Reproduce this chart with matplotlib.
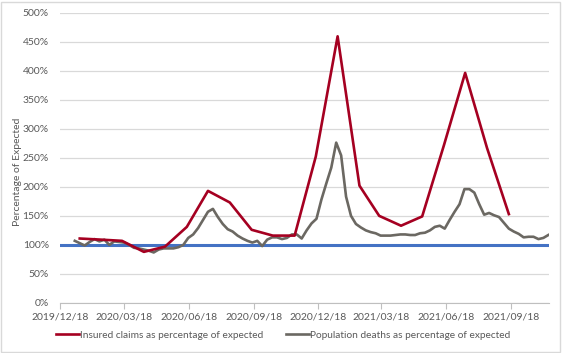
import matplotlib
matplotlib.use("Agg")
import matplotlib.pyplot as plt
import matplotlib.dates as mdates
import numpy as np
import pandas as pd
from matplotlib.patches import Rectangle
from matplotlib.ticker import FuncFormatter, MultipleLocator

plt.rcParams["font.family"] = ["Lato", "DejaVu Sans"]

# insured claims, monthly (mid-month), % of expected
claims_dates = pd.date_range("2020-01-01", periods=21, freq="MS") + pd.Timedelta(days=14)
claims_pct = [111, 109, 107, 88, 97, 131, 193, 173, 126, 116, 116, 252,
              459, 202, 150, 133, 149, 272, 396, 267, 153]

# population deaths, weekly, % of expected
deaths_dates = pd.date_range("2020-01-08", periods=97, freq="7D")
deaths_pct = [107, 103, 99, 105, 110, 106, 109, 100, 106, 105,
              104, 100, 95, 94, 92, 90, 87, 92, 94, 94,
              94, 96, 100, 112, 118, 129, 143, 157, 162, 148,
              136, 127, 123, 116, 111, 107, 104, 107, 98, 109,
              113, 113, 110, 112, 118, 118, 111, 125, 137, 145,
              178, 206, 233, 276, 254, 183, 150, 136, 130, 125,
              122, 120, 116, 116, 116, 117, 118, 118, 117, 117,
              120, 121, 125, 131, 133, 128, 143, 157, 170, 196,
              196, 190, 170, 152, 155, 151, 148, 138, 128, 123,
              119, 113, 114, 114, 110, 112, 117]

tick_dates = pd.to_datetime(["2019-12-18", "2020-03-18", "2020-06-18", "2020-09-18",
                             "2020-12-18", "2021-03-18", "2021-06-18", "2021-09-18"])
x_start = pd.Timestamp("2019-12-18")
x_end = pd.Timestamp("2021-11-11")

fig = plt.figure(figsize=(5.62, 3.53), dpi=100)
ax = fig.add_axes([60 / 562, 50 / 353, 489 / 562, 290.5 / 353])

ax.plot([x_start, x_end], [100, 100], color="#4472C4", lw=2.2, zorder=2)
ax.plot(claims_dates, claims_pct, color="#A50021", lw=1.9, zorder=4,
        label="Insured claims as percentage of expected")
ax.plot(deaths_dates, deaths_pct, color="#6B6862", lw=1.9, zorder=3,
        label="Population deaths as percentage of expected")

ax.set_xlim(x_start, x_end)
ax.set_ylim(0, 500)
ax.yaxis.set_major_locator(MultipleLocator(50))
ax.yaxis.set_major_formatter(FuncFormatter(lambda v, _: f"{v:.0f}%"))
ax.set_xticks(tick_dates)
ax.xaxis.set_major_formatter(mdates.DateFormatter("%Y/%m/%d"))
ax.grid(axis="y", color="#D9D9D9", lw=0.9)
ax.set_axisbelow(True)

for s in ["top", "right", "left"]:
    ax.spines[s].set_visible(False)
ax.spines["bottom"].set_color("#BFBFBF")
ax.tick_params(axis="y", length=0, labelsize=7.5, labelcolor="#595959", pad=8)
ax.tick_params(axis="x", length=4, color="#BFBFBF", labelsize=7.5, labelcolor="#595959", pad=3)

ax.set_ylabel("Percentage of Expected", fontsize=7.5, color="#595959")
ax.yaxis.set_label_coords(-0.078, 0.45)

fig.legend(loc="center", bbox_to_anchor=(283 / 562, 18 / 353), ncol=2, frameon=False,
           fontsize=7.3, labelcolor="#595959", handlelength=2.3, handletextpad=0.1,
           columnspacing=2.2)

fig.add_artist(Rectangle((0.002, 0.003), 0.994, 0.992, transform=fig.transFigure,
                         fill=False, edgecolor="#D9D9D9", lw=1))

fig.savefig("out.png", dpi=100)
